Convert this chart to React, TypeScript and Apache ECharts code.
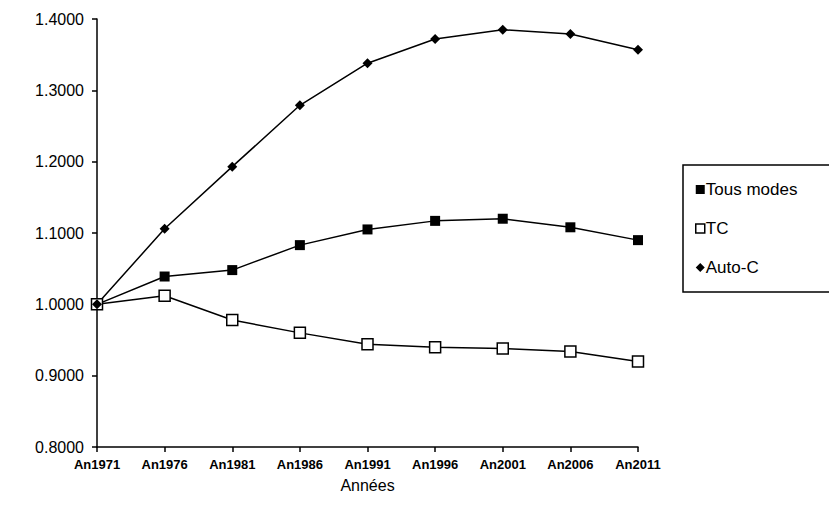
import React, { useEffect, useRef } from "react";
import * as echarts from "echarts";

const categories = ["An1971", "An1976", "An1981", "An1986", "An1991", "An1996", "An2001", "An2006", "An2011"];
const tousModes = [1.0, 1.039, 1.048, 1.083, 1.105, 1.117, 1.12, 1.108, 1.09];
const tc = [1.0, 1.012, 0.978, 0.96, 0.944, 0.94, 0.938, 0.934, 0.92];
const autoC = [1.0, 1.106, 1.193, 1.279, 1.338, 1.372, 1.385, 1.379, 1.357];

export default function App() {
  const ref = useRef<HTMLDivElement>(null);
  useEffect(() => {
    const chart = echarts.init(ref.current!, null, { renderer: "svg" });
    const font = "Liberation Sans, Arial, sans-serif";
    chart.setOption({
      animation: false,
      backgroundColor: "#fff",
      textStyle: { fontFamily: font, color: "#000" },
      grid: { left: 97, right: 199, top: 19, bottom: 59, containLabel: false },
      legend: {
        orient: "vertical",
        left: 683,
        top: 165,
        padding: [16, 80, 16, 12],
        itemGap: 22,
        itemWidth: 9,
        itemHeight: 9,
        borderColor: "#000",
        borderWidth: 1.5,
        textStyle: { fontSize: 17, color: "#000", fontFamily: font, padding: [0, 0, 0, -4] },
        data: [
          { name: "Tous modes", icon: "rect", itemStyle: { color: "#000" } },
          { name: "TC", icon: "rect", itemStyle: { color: "#fff", borderColor: "#000", borderWidth: 1.5 } },
          { name: "Auto-C", icon: "diamond", itemStyle: { color: "#000" } },
        ],
      },
      xAxis: {
        type: "category",
        data: categories,
        boundaryGap: false,
        name: "Années",
        nameLocation: "middle",
        nameGap: 30,
        nameTextStyle: { fontSize: 16, color: "#000" },
        axisLine: { lineStyle: { color: "#000", width: 1.5 } },
        axisTick: { show: true, inside: false, length: 5, lineStyle: { color: "#000", width: 1.5 } },
        axisLabel: { fontSize: 13, fontWeight: "bold", color: "#000", margin: 11 },
        splitLine: { show: false },
      },
      yAxis: {
        type: "value",
        min: 0.8,
        max: 1.4,
        interval: 0.1,
        axisLine: { show: true, lineStyle: { color: "#000", width: 1.5 } },
        axisTick: { show: true, length: 5, lineStyle: { color: "#000", width: 1.5 } },
        axisLabel: { fontSize: 16, color: "#000", margin: 13, formatter: (v: number) => v.toFixed(4) },
        splitLine: { show: false },
      },
      series: [
        {
          name: "Tous modes", type: "line", data: tousModes, symbol: "rect", symbolSize: 10,
          lineStyle: { color: "#000", width: 1.5 }, itemStyle: { color: "#000" },
        },
        {
          name: "TC", type: "line", data: tc, symbol: "rect", symbolSize: 11,
          lineStyle: { color: "#000", width: 1.5 }, itemStyle: { color: "#fff", borderColor: "#000", borderWidth: 1.5 },
        },
        {
          name: "Auto-C", type: "line", data: autoC, symbol: "diamond", symbolSize: 10,
          lineStyle: { color: "#000", width: 1.5 }, itemStyle: { color: "#000" },
        },
      ],
    });
    return () => chart.dispose();
  }, []);
  return <div ref={ref} style={{ width: 837, height: 506, margin: -8 }} />;
}
